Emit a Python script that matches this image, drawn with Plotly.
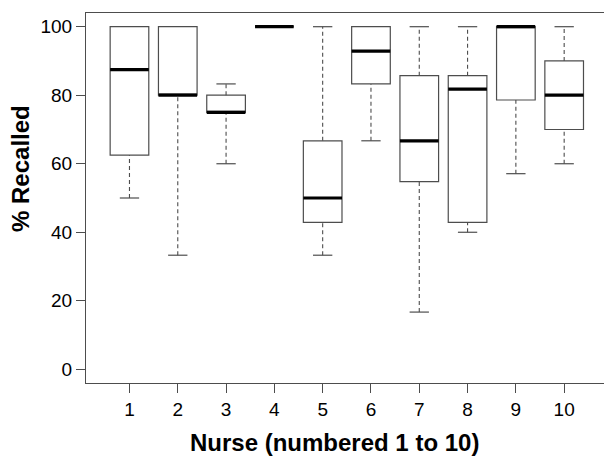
import plotly.graph_objects as go

nurses = [1, 2, 3, 4, 5, 6, 7, 8, 9, 10]
mins    = [50.0, 33.3, 60.0, 100, 33.3, 66.7, 16.7, 40.0, 57.1, 60.0]
q1s     = [62.5, 80.0, 75.0, 100, 42.9, 83.3, 54.8, 42.9, 78.6, 70.0]
medians = [87.5, 80.0, 75.0, 100, 50.0, 92.9, 66.7, 81.8, 100, 80.0]
q3s     = [100, 100, 80.0, 100, 66.7, 100, 85.7, 85.7, 100, 90.0]
maxs    = [100, 100, 83.3, 100, 100, 100, 100, 100, 100, 100]
yticks = [0, 20, 40, 60, 80, 100]
xlabel = "Nurse (numbered 1 to 10)"
ylabel = "% Recalled"

FONT = "Liberation Sans, Arial, sans-serif"
LINE = "#4d4d4d"
BOXW = 0.8
CAPW = 0.4
W = 612          # figure is slightly wider than the window; the frame's right side is cut off as in the reference
PLOT_W = W - 86

fig = go.Figure()

# boxes (no whiskers: fences at quartiles)
fig.add_trace(go.Box(
    x=nurses, q1=q1s, median=medians, q3=q3s,
    lowerfence=q1s, upperfence=q3s,
    width=BOXW, line=dict(color=LINE, width=1.2),
    fillcolor="rgba(255,255,255,0)", boxpoints=False,
    hoverinfo="skip", showlegend=False,
))

# dashed whiskers
wx, wy = [], []
for n, lo, a, b, hi in zip(nurses, mins, q1s, q3s, maxs):
    if lo < a:
        wx += [n, n, None]; wy += [lo, a, None]
    if hi > b:
        wx += [n, n, None]; wy += [b, hi, None]
fig.add_trace(go.Scatter(x=wx, y=wy, mode="lines",
                         line=dict(color=LINE, width=1.1, dash="4px,3px"),
                         hoverinfo="skip", showlegend=False))

# whisker caps
cx, cy = [], []
for n, lo, a, b, hi in zip(nurses, mins, q1s, q3s, maxs):
    if lo < a:
        cx += [n - CAPW / 2, n + CAPW / 2, None]; cy += [lo, lo, None]
    if hi > b:
        cx += [n - CAPW / 2, n + CAPW / 2, None]; cy += [hi, hi, None]
fig.add_trace(go.Scatter(x=cx, y=cy, mode="lines",
                         line=dict(color=LINE, width=1.2),
                         hoverinfo="skip", showlegend=False))

# thick medians
mx, my = [], []
for n, m in zip(nurses, medians):
    mx += [n - BOXW / 2, n + BOXW / 2, None]; my += [m, m, None]
fig.add_trace(go.Scatter(x=mx, y=my, mode="lines",
                         line=dict(color="black", width=3.2),
                         hoverinfo="skip", showlegend=False))

fig.update_layout(
    width=W, height=462,
    margin=dict(l=86, r=0, t=13, b=79),
    paper_bgcolor="white", plot_bgcolor="white",
    font=dict(family=FONT, color="black"),
    showlegend=False,
    xaxis=dict(range=[0.1, 0.1 + PLOT_W / 48.3], tickmode="array", tickvals=nurses,
               ticktext=[str(n) for n in nurses],
               showline=True, mirror=True, linecolor=LINE, linewidth=1.2,
               ticks="outside", ticklen=9, tickcolor=LINE, tickwidth=1.2,
               showgrid=False, zeroline=False,
               tickfont=dict(size=19, family=FONT, color="black")),
    yaxis=dict(range=[-4, 104], tickmode="array", tickvals=yticks,
               showline=True, mirror=False, linecolor=LINE, linewidth=1.2,
               ticks="outside", ticklen=9, tickcolor=LINE, tickwidth=1.2,
               showgrid=False, zeroline=False,
               tickfont=dict(size=19, family=FONT, color="black")),
    annotations=[
        dict(text="<b>" + xlabel + "</b>", xref="paper", yref="paper",
             x=(334.5 - 86) / PLOT_W, y=(383 - 442) / 370,
             xanchor="center", yanchor="middle", showarrow=False,
             font=dict(size=24, family=FONT, color="black")),
        dict(text="<b>" + ylabel + "</b>", xref="paper", yref="paper",
             x=(20 - 86) / PLOT_W, y=(383 - 169) / 370, textangle=-90,
             xanchor="center", yanchor="middle", showarrow=False,
             font=dict(size=24, family=FONT, color="black")),
    ],
)

fig.write_html(
    "out.html",
    config={"displayModeBar": False},
    post_script="document.body.style.margin='0';document.body.style.padding='0';document.body.style.overflow='hidden';",
)
